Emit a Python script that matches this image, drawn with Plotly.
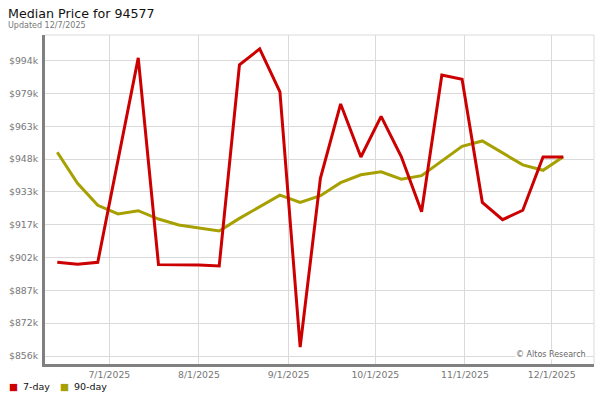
import plotly.graph_objects as go

# ---------------- data ----------------
week_dates = [
    "2025-06-13", "2025-06-20", "2025-06-27", "2025-07-04", "2025-07-11",
    "2025-07-18", "2025-07-25", "2025-08-01", "2025-08-08", "2025-08-15",
    "2025-08-22", "2025-08-29", "2025-09-05", "2025-09-12", "2025-09-19",
    "2025-09-26", "2025-10-03", "2025-10-10", "2025-10-17", "2025-10-24",
    "2025-10-31", "2025-11-07", "2025-11-14", "2025-11-21", "2025-11-28",
    "2025-12-05",
]

price_7day = [
    899800, 898900, 899800, 947500, 995300, 898700, 898700, 898500, 898100,
    992100, 999500, 979400, 860200, 939000, 973800, 949000, 968000, 949100,
    923400, 987300, 985300, 927800, 919700, 924100, 949000, 949000,
]

price_90day = [
    951200, 936700, 926400, 922400, 923900, 920000, 917200, 915800, 914400,
    920300, 925800, 931200, 927800, 930900, 937000, 940700, 942100, 938600,
    940300, 947300, 954000, 956500, 950700, 945300, 942800, 949100,
]

y_tick_labels = ["$856k", "$872k", "$887k", "$902k", "$917k",
                 "$933k", "$948k", "$963k", "$979k", "$994k"]
y_tick_start = 856000
y_tick_step = 138000 / 9

series_names = ["7-day", "90-day"]
title_text = "Median Price for 94577"
subtitle_text = "Updated 12/7/2025"
credit_text = "© Altos Research"

# ---------------- styling ----------------
RED = "#cc0000"
OLIVE = "#a6a000"
GRID = "#dadada"
AXIS = "#808080"
TICK_FONT = dict(family="DejaVu Sans", size=9.33, color="#777777")

W, H = 600, 400
L, R, T, B = 45, 6, 35, 36
PW, PH = W - L - R, H - T - B


def px_x(px):
    return (px - L) / PW


def px_y(py):
    return (H - B - py) / PH


fig = go.Figure()
fig.add_trace(go.Scatter(x=week_dates, y=price_90day, mode="lines",
                         name=series_names[1],
                         line=dict(color=OLIVE, width=3)))
fig.add_trace(go.Scatter(x=week_dates, y=price_7day, mode="lines",
                         name=series_names[0],
                         line=dict(color=RED, width=3)))

tickvals = [y_tick_start + i * y_tick_step for i in range(len(y_tick_labels))]

fig.update_layout(
    width=W, height=H,
    margin=dict(l=L, r=R, t=T, b=B, pad=0),
    paper_bgcolor="white", plot_bgcolor="white",
    showlegend=False,
    font=dict(family="DejaVu Sans"),
    xaxis=dict(
        type="date",
        range=["2025-06-08 18:00", "2025-12-15 15:00"],
        tick0="2025-07-01", dtick="M1", tickformat="%-m/%-d/%Y",
        showgrid=True, gridcolor=GRID, gridwidth=1,
        showline=True, linecolor=AXIS, linewidth=3,
        ticks="", zeroline=False, tickfont=TICK_FONT,
    ),
    yaxis=dict(
        range=[852262, 1006006],
        tickvals=tickvals, ticktext=y_tick_labels,
        showgrid=True, gridcolor=GRID, gridwidth=1,
        showline=True, linecolor=AXIS, linewidth=3,
        ticks="", zeroline=False, tickfont=TICK_FONT,
        ticklabelstandoff=2,
    ),
    shapes=[
        dict(type="line", xref="paper", yref="paper", x0=0, x1=1, y0=1, y1=1,
             line=dict(color=GRID, width=1), layer="below"),
        dict(type="line", xref="paper", yref="paper", x0=1, x1=1, y0=0, y1=1,
             line=dict(color=GRID, width=1), layer="below"),
    ],
)

ann = []
ann.append(dict(text=title_text, x=px_x(7), y=px_y(13.5), xref="paper", yref="paper",
                xanchor="left", yanchor="middle", showarrow=False, borderpad=0,
                font=dict(family="DejaVu Sans", size=12.67, color="#111111")))
ann.append(dict(text=subtitle_text, x=px_x(7), y=px_y(25), xref="paper", yref="paper",
                xanchor="left", yanchor="middle", showarrow=False, borderpad=0,
                font=dict(family="DejaVu Sans", size=8, color="#777777")))
ann.append(dict(text=credit_text, x=px_x(587), y=px_y(354.5), xref="paper", yref="paper",
                xanchor="right", yanchor="middle", showarrow=False, borderpad=0,
                bgcolor="white",
                font=dict(family="DejaVu Sans", size=8, color="#666666")))

# legend (square marker + label)
legend_items = [(series_names[0], RED, 7.5, 21.5), (series_names[1], OLIVE, 58.5, 72.5)]
for name, col, sq_x, tx_x in legend_items:
    ann.append(dict(text="■", x=px_x(sq_x), y=px_y(386), xref="paper", yref="paper",
                    xanchor="left", yanchor="middle", showarrow=False, borderpad=0,
                    font=dict(family="DejaVu Sans", size=9.5, color=col)))
    ann.append(dict(text=name, x=px_x(tx_x), y=px_y(386), xref="paper", yref="paper",
                    xanchor="left", yanchor="middle", showarrow=False, borderpad=0,
                    font=dict(family="DejaVu Sans", size=9.5, color="#111111")))
fig.update_layout(annotations=ann)

fig.write_html("out.html",
               config={"displayModeBar": False},
               post_script="document.body.style.margin='0';document.body.style.overflow='hidden';")
